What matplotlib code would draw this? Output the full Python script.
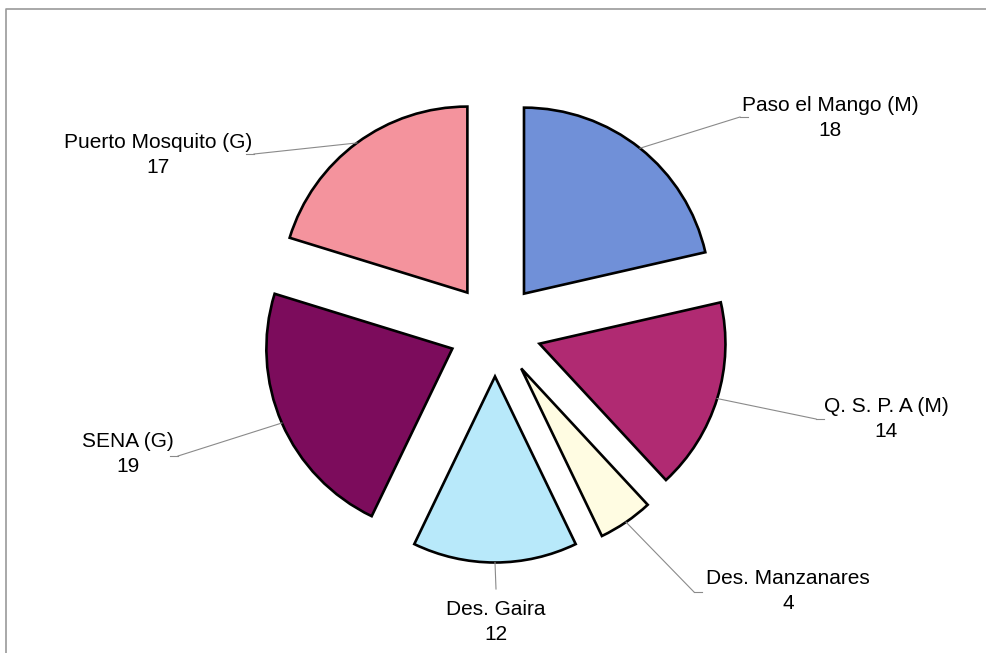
import numpy as np
import matplotlib.pyplot as plt

# sampling stations and counts
labels = ['Paso el Mango (M)', 'Q. S. P. A (M)', 'Des. Manzanares',
          'Des. Gaira', 'SENA (G)', 'Puerto Mosquito (G)']
values = [18, 14, 4, 12, 19, 17]
colors = ['#7090D8', '#B02A72', '#FFFCE2', '#B8E9FA', '#7C0C5C', '#F4939D']

# text position (pixels, y up) and leader elbow for each label
label_pos = [(830, 535), (886, 234), (788, 62), (496, 31), (128, 199), (158, 498)]
elbows = [(740, 536), (816, 234), (694, 61), (496, 64), (178, 197), (254, 499)]

W, H = 986, 653
fig = plt.figure(figsize=(W / 100, H / 100), dpi=100)
ax = fig.add_axes([0, 0, 1, 1])
plt.rcParams['font.family'] = ['Liberation Sans', 'DejaVu Sans']

cx, cy, R = 495, 323, 186
# matplotlib offsets exploded wedges in data units
wedges, _ = ax.pie(values, colors=colors, startangle=90, counterclock=False,
                   radius=R, center=(cx, cy), explode=[0.25 * R] * len(values),
                   wedgeprops=dict(edgecolor='black', linewidth=1.9))

ax.set_xlim(0, W)
ax.set_ylim(0, H)
ax.set_aspect('equal')
ax.axis('off')

for w, lab, v, (tx, ty), (ex, ey) in zip(wedges, labels, values, label_pos, elbows):
    mid = np.deg2rad((w.theta1 + w.theta2) / 2)
    wx, wy = w.center
    px = wx + w.r * np.cos(mid)
    py = wy + w.r * np.sin(mid)
    ax.plot([px, ex], [py, ey], color='#8a8a8a', lw=0.8)
    if ex != tx:
        side = -1 if ex > tx else 1
        ax.plot([ex, ex + side * 8], [ey, ey], color='#8a8a8a', lw=0.8)
    ax.text(tx, ty, f'{lab}\n{v}', ha='center', va='center', fontsize=15,
            linespacing=1.38, color='black')

# chart frame
ax.plot([6, 6, W + 5], [-5, H - 9, H - 9], color='#9a9a9a', lw=1.2, clip_on=False)

fig.savefig('out.png', dpi=100)
